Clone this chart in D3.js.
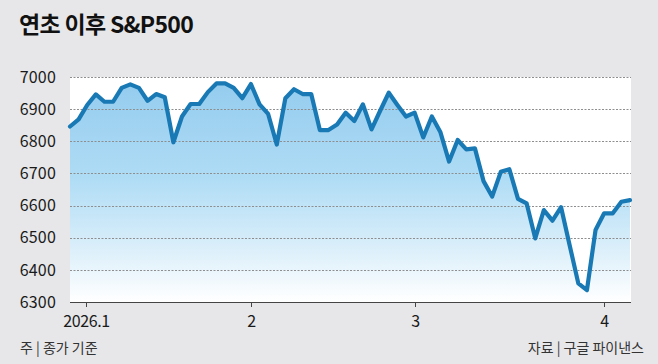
<!DOCTYPE html>
<html>
<head>
<meta charset="utf-8">
<script src="https://cdn.jsdelivr.net/npm/d3@7"></script>
<style>
  html, body { margin: 0; padding: 0; background: #e7e7e9; }
  svg { display: block; font-family: "Noto Sans CJK KR", "Noto Sans", sans-serif; }
</style>
</head>
<body>
<div id="chart"></div>
<script>
// 종가 (거래일 순서, 2025.12.31 ~ 2026.4.7)
const closes = [
  6846, 6868, 6913, 6946, 6923, 6923, 6966, 6977, 6966, 6926,
  6947, 6937, 6797, 6877, 6916, 6916, 6953, 6980, 6980, 6966,
  6934, 6978, 6915, 6885, 6790, 6934, 6962, 6947, 6947, 6835,
  6835, 6852, 6889, 6863, 6915, 6837, 6895, 6951, 6913, 6877,
  6889, 6812, 6877, 6828, 6737, 6804, 6775, 6778, 6676, 6628,
  6705, 6713, 6621, 6607, 6498, 6586, 6553, 6595, 6476, 6358,
  6337, 6524, 6576, 6576, 6612, 6617
];
const yTicks = [6300, 6400, 6500, 6600, 6700, 6800, 6900, 7000];
const monthLabels = ["2026.1", "2", "3", "4"];
const monthIndex = [1.85, 21, 40, 62];

const W = 658, H = 364;
const m = {left: 70, right: 631, top: 77, bottom: 302};

const svg = d3.select("#chart").append("svg")
  .attr("width", W).attr("height", H);

svg.append("rect").attr("width", W).attr("height", H).attr("fill", "#e7e7e9");

const x = d3.scaleLinear().domain([0, closes.length - 1]).range([m.left, m.right - 1]);
const y = d3.scaleLinear().domain([6300, 7000]).range([m.bottom, m.top]);

// 제목
svg.append("text")
  .attr("x", 19).attr("y", 33)
  .attr("font-size", 23).attr("font-weight", 700)
  .attr("letter-spacing", -0.7)
  .attr("fill", "#111")
  .text("연초 이후 S&P500");

// 플롯 배경
svg.append("rect")
  .attr("x", m.left).attr("y", m.top)
  .attr("width", m.right - m.left).attr("height", m.bottom - m.top)
  .attr("fill", "#ffffff");

// 그라데이션
const grad = svg.append("defs").append("linearGradient")
  .attr("id", "fillGrad")
  .attr("gradientUnits", "userSpaceOnUse")
  .attr("x1", 0).attr("x2", 0).attr("y1", m.top).attr("y2", m.bottom);
grad.append("stop").attr("offset", 0).attr("stop-color", "#93cbee");
grad.append("stop").attr("offset", 0.45).attr("stop-color", "#afdcf5");
grad.append("stop").attr("offset", 0.75).attr("stop-color", "#d9eefa");
grad.append("stop").attr("offset", 1).attr("stop-color", "#ffffff");

const area = d3.area()
  .x((d, i) => x(i))
  .y0(y(6300))
  .y1(d => y(d));

svg.append("path")
  .datum(closes)
  .attr("d", area)
  .attr("fill", "url(#fillGrad)");

// 격자선
svg.append("g")
  .selectAll("line")
  .data(yTicks.slice(1))
  .enter().append("line")
  .attr("x1", m.left).attr("x2", m.right)
  .attr("y1", d => Math.round(y(d)) + 0.5)
  .attr("y2", d => Math.round(y(d)) + 0.5)
  .attr("stroke", "#8e8e8e")
  .attr("stroke-width", 1)
  .attr("stroke-dasharray", "2,1.5");

// y축 라벨
svg.append("g")
  .selectAll("text")
  .data(yTicks)
  .enter().append("text")
  .attr("x", 56)
  .attr("y", d => y(d))
  .attr("dy", "0.36em")
  .attr("text-anchor", "end")
  .attr("font-size", 16)
  .attr("letter-spacing", 0.2)
  .attr("fill", "#1a1a1a")
  .text(d => d);

// x축
svg.append("line")
  .attr("x1", m.left).attr("x2", m.right)
  .attr("y1", m.bottom + 0.5).attr("y2", m.bottom + 0.5)
  .attr("stroke", "#444").attr("stroke-width", 1.2);

const xt = svg.append("g")
  .selectAll("g")
  .data(monthLabels)
  .enter().append("g")
  .attr("transform", (d, i) => `translate(${Math.round(x(monthIndex[i])) + 0.5},${m.bottom})`);
xt.append("line").attr("y1", 0).attr("y2", 5).attr("stroke", "#444");
xt.append("text")
  .attr("y", 25)
  .attr("text-anchor", "middle")
  .attr("font-size", 16)
  .attr("letter-spacing", -0.4)
  .attr("fill", "#1a1a1a")
  .text(d => d);

// 라인
const line = d3.line()
  .x((d, i) => x(i))
  .y(d => y(d));

svg.append("path")
  .datum(closes)
  .attr("d", line)
  .attr("fill", "none")
  .attr("stroke", "#1879b4")
  .attr("stroke-width", 4.2)
  .attr("stroke-linejoin", "round")
  .attr("stroke-linecap", "round");

// 하단 주석
svg.append("text")
  .attr("x", 20).attr("y", 353)
  .attr("font-size", 14)
  .attr("fill", "#333")
  .text("주 | 종가 기준");

svg.append("text")
  .attr("x", 644).attr("y", 353)
  .attr("text-anchor", "end")
  .attr("font-size", 14)
  .attr("fill", "#333")
  .text("자료 | 구글 파이낸스");
</script>
</body>
</html>
